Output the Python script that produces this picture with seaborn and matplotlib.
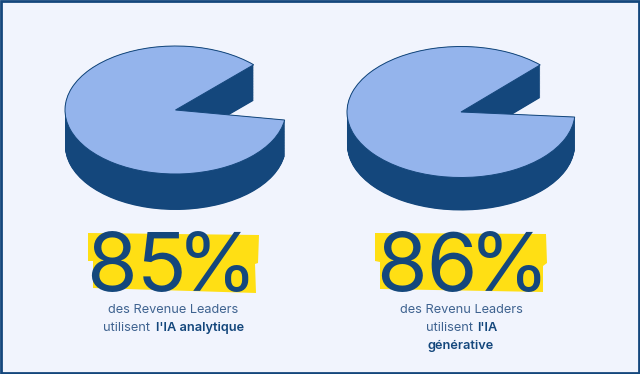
import matplotlib
matplotlib.use('Agg')
import matplotlib.pyplot as plt
import numpy as np
import seaborn as sns
from matplotlib.patches import Polygon, Rectangle

# valeurs du graphique
parts_ia = [85, 86]
labels_pct = ['85', '86']
ligne1 = ['des Revenue Leaders', 'des Revenu Leaders']
ligne2 = ['utilisent', 'utilisent']
ligne2_gras = ["l'IA analytique", "l'IA"]
ligne3_gras = ['', 'générative']

W, H = 640, 374
FOND = '#f1f4fd'
CLAIR = '#94b4ec'
FONCE = '#14477c'
JAUNE = '#ffdf14'
TEXTE = '#3f6390'

# position des camemberts en pixels : centre x, centre y, rayon x, rayon y, epaisseur
boites = [(175.5, 110, 110.5, 64, 36), (461, 112, 114, 65.5, 33)]
# angle du bord bas de la part manquante
angles = [-9, -4.4]
# bandes jaunes (pixels)
bandes = [
    [(88, 233), (259, 235), (258, 263), (255, 264), (256, 293), (93, 288), (93, 261), (88, 261)],
    [(375, 233), (546, 234), (547, 263), (543, 266), (543, 292), (380, 289), (380, 262), (375, 261)],
]
x_chiffres = [186.5, 478]
x_pourcent = [257, 549]
x_texte = [173.5, 461]
x_fin_ligne2 = [150, 473]
x_gras = [155.5, 477]

sns.set_theme(style='white')
plt.rcParams['font.family'] = ['Inter', 'DejaVu Sans']

fig = plt.figure(figsize=(W / 100, H / 100), dpi=100, facecolor=FOND)

# calque en pixels pour le cadre, les bandes et les textes
fond = fig.add_axes([0, 0, 1, 1], zorder=0)
fond.set_xlim(0, W)
fond.set_ylim(H, 0)
fond.axis('off')
fond.add_patch(Rectangle((1, 1), W - 2, H - 2, fc=FOND, ec=FONCE, lw=2))

for i, part in enumerate(parts_ia):
    cx, cy, rx, ry, ep = boites[i]
    # axe autour du camembert, etire en ellipse
    haut = ry * 2 + ep
    ax = fig.add_axes([(cx - rx) / W, 1 - (cy + ry + ep) / H, 2 * rx / W, haut / H], zorder=1)
    vals = [part, 100 - part]
    # la part pleine commence juste apres le bord haut du vide
    debut = angles[i] + (100 - part) * 3.6
    # l'epaisseur : le meme camembert empile vers le bas
    for d in np.linspace(ep / ry, 0, 60):
        ax.pie(vals, startangle=debut, center=(0, -d), colors=[FONCE, 'none'], radius=1, frame=True,
               wedgeprops={'edgecolor': 'none', 'linewidth': 0})
    w, _ = ax.pie(vals, startangle=debut, center=(0, 0), colors=[CLAIR, 'none'], radius=1, frame=True,
                  wedgeprops={'edgecolor': 'none', 'linewidth': 0})
    w[0].set_edgecolor(FONCE)
    w[0].set_linewidth(0.7)
    ax.set_aspect('auto')
    ax.set_xlim(-1, 1)
    ax.set_ylim(-1 - ep / ry, 1)
    ax.axis('off')
    ax.patch.set_alpha(0)

    fond.add_patch(Polygon(bandes[i], closed=True, fc=JAUNE, ec='none'))
    fond.text(x_chiffres[i], 291, labels_pct[i], color=FONCE, fontsize=59, ha='right', va='baseline')
    fond.text(x_pourcent[i], 291, '%', color=FONCE, fontsize=59, ha='right', va='baseline')
    fond.text(x_texte[i], 310, ligne1[i], color=TEXTE, fontsize=9.2, ha='center', va='center')
    fond.text(x_fin_ligne2[i], 328, ligne2[i], color=TEXTE, fontsize=9.2, ha='right', va='center')
    fond.text(x_gras[i], 328, ligne2_gras[i], color=FONCE, fontsize=9.2, fontweight='semibold',
              ha='left', va='center')
    if ligne3_gras[i]:
        fond.text(x_texte[i], 346, ligne3_gras[i], color=FONCE, fontsize=9.2, fontweight='semibold',
                  ha='center', va='center')

fig.savefig('out.png', dpi=100, facecolor=FOND)
